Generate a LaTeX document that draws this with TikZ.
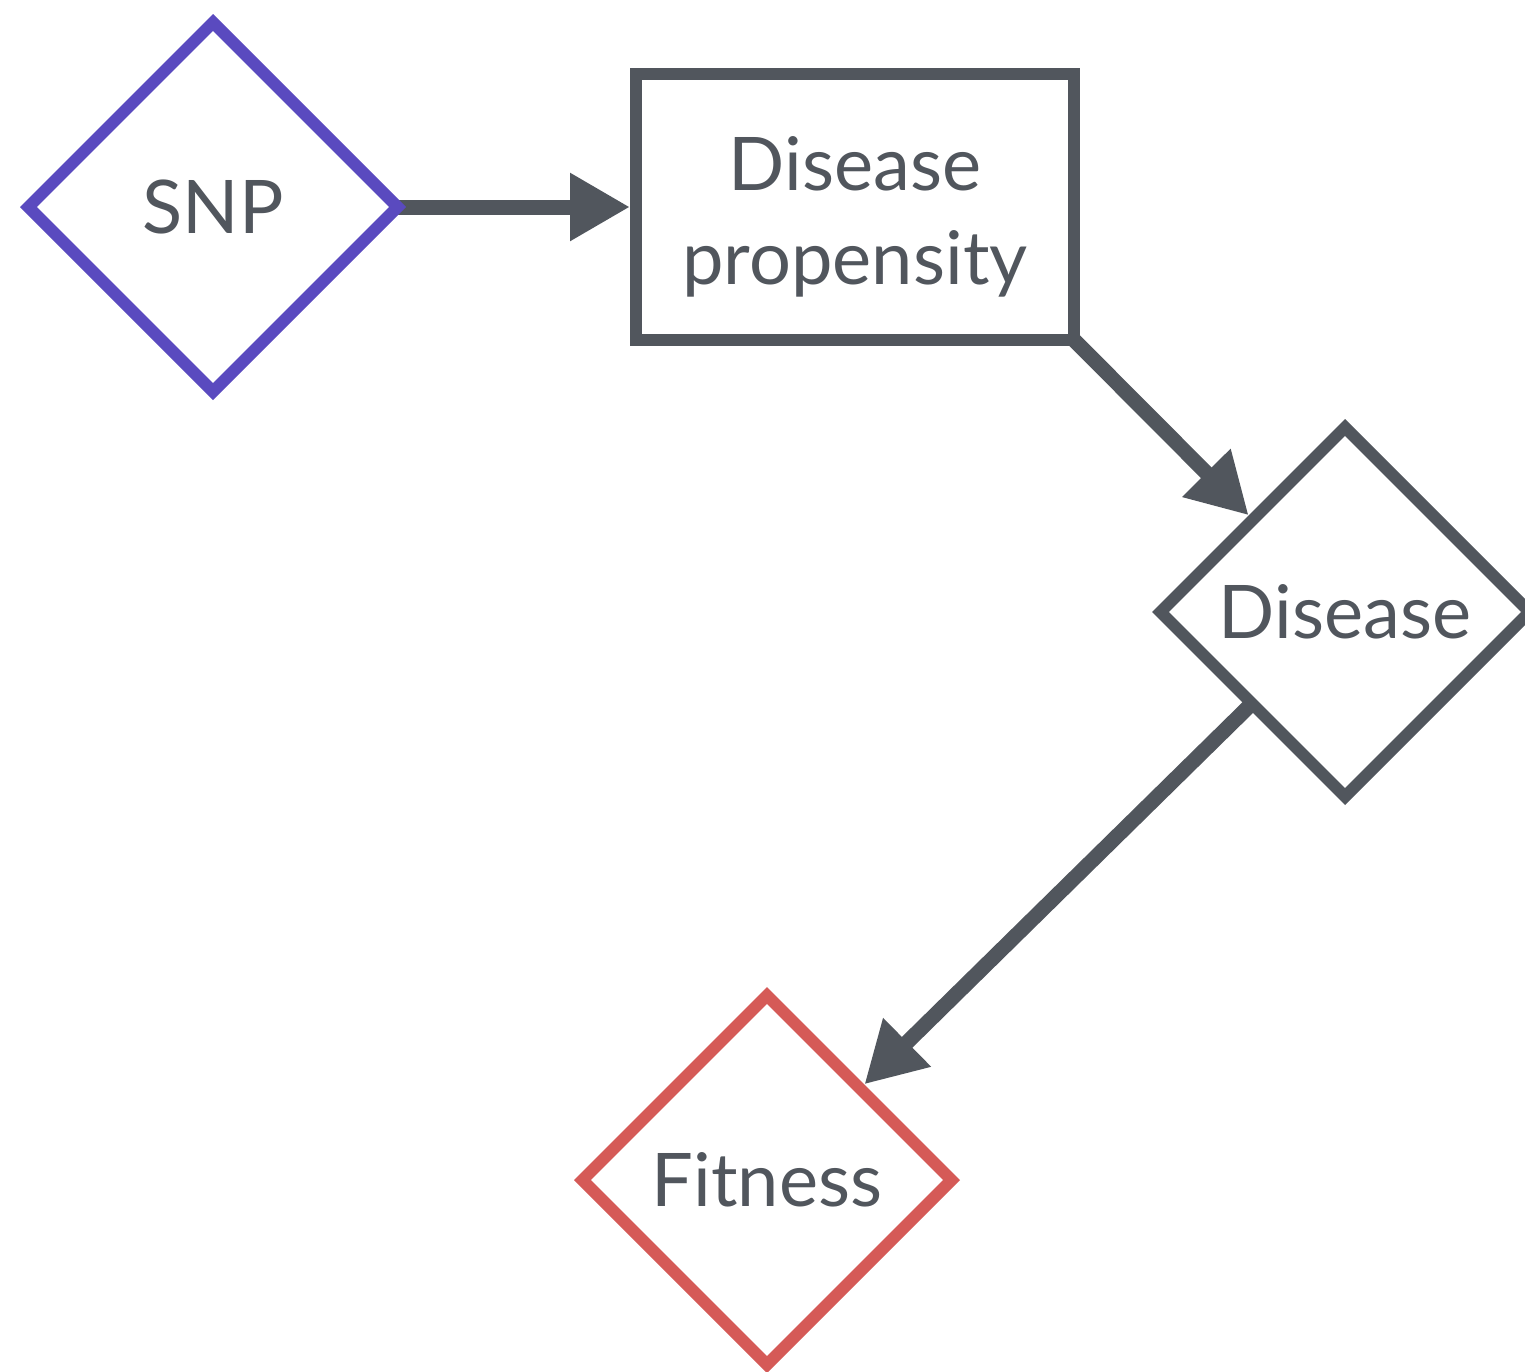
\documentclass[tikz,border=0pt]{standalone}
\usepackage{fontspec}
\setmainfont{Lato}
\usetikzlibrary{shapes.geometric,arrows.meta,backgrounds}
\definecolor{txt}{HTML}{51565D}
\definecolor{purp}{HTML}{5A4ABF}
\definecolor{redd}{HTML}{D55A57}
\tikzset{
  dia/.style={diamond, aspect=1, draw, line width=12pt, minimum width=374pt, minimum height=374pt, inner sep=0pt, text=txt, font=\fontsize{74}{94}\selectfont},
  boxnode/.style={rectangle, draw=txt, line width=12pt, minimum width=438pt, minimum height=266pt, inner sep=0pt, text=txt, align=center, font=\fontsize{74}{94}\selectfont},
  conn/.style={draw=txt, line width=15pt, -{Triangle[length=60pt,width=64pt]}}
}
\begin{document}
\begin{tikzpicture}[x=1pt,y=-1pt]
\useasboundingbox (0,0) rectangle (1525,1371);
\node[dia, draw=purp] (snp) at (213,207) {SNP};
\node[boxnode] (prop) at (855,207) {};
\node[text=txt, align=center, font=\fontsize{74}{94}\selectfont] (proptext) at (855,217) {Disease\\propensity};
\node[dia, draw=txt] (dis) at (1345,612) {Disease};
\node[dia, draw=redd] (fit) at (767,1180) {Fitness};
\begin{pgfonlayer}{background}
\draw[conn, shorten <=-8pt] (snp.east) -- (prop.west);
\draw[conn, shorten <=-8.5pt] (prop.south east) -- (dis);
\draw[conn, shorten <=-8pt] (dis) -- (fit);
\end{pgfonlayer}
\end{tikzpicture}
\end{document}
